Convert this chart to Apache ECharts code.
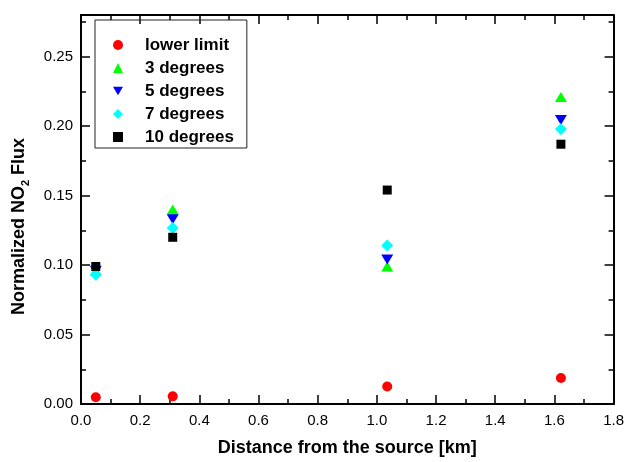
<!DOCTYPE html>
<html>
<head>
<meta charset="utf-8">
<script src="https://cdn.jsdelivr.net/npm/echarts@6/dist/echarts.min.js"></script>
<style>
  html, body { margin: 0; padding: 0; background: #fff; }
  #chart { width: 627px; height: 462px; }
</style>
</head>
<body>
<div id="chart"></div>
<script>
// distances [km]
const distance = [0.05, 0.31, 1.035, 1.622]
// normalized NO2 flux per scan angle
const lowerLimit = [0.0048, 0.0055, 0.0126, 0.0187]
const deg3 = [0.096, 0.140, 0.099, 0.221]
const deg5 = [0.096, 0.133, 0.104, 0.2045]
const deg7 = [0.093, 0.1267, 0.114, 0.198]
const deg10 = [0.099, 0.120, 0.154, 0.187]

const FONT = '"Liberation Sans", Arial, sans-serif'
const DOWN_TRI = 'path://M0,0L12,0L6,10Z'
const chart = echarts.init(document.getElementById('chart'))

function pts(ys) {
  return distance.map((x, i) => [x, ys[i]])
}

function scatter(name, ys, symbol, size, color) {
  return {
    name,
    type: 'scatter',
    data: pts(ys),
    symbol,
    symbolSize: size,
    itemStyle: { color, opacity: 1 },
    xAxisIndex: 0,
    yAxisIndex: 0,
  }
}

const lineStyle = { color: '#000', width: 2 }

function xAx(pos, labels) {
  return {
    type: 'value', position: pos, min: 0, max: 1.8, interval: 0.2,
    axisLine: { show: true, onZero: false, lineStyle },
    axisTick: { show: true, inside: true, length: 9, lineStyle: { color: '#000', width: 1.5 } },
    minorTick: { show: true, splitNumber: 2, length: 5, lineStyle: { color: '#000', width: 1.5 } },
    splitLine: { show: false },
    axisLabel: { show: labels, color: '#000', fontFamily: FONT, fontSize: 15, margin: 9,
      formatter: v => v.toFixed(1) },
    name: labels ? 'Distance from the source [km]' : '',
    nameLocation: 'middle',
    nameGap: 35,
    nameTextStyle: { color: '#000', fontFamily: FONT, fontSize: 18, fontWeight: 'bold' },
  }
}

function yAx(pos, major, labels) {
  return {
    type: 'value', position: pos, min: 0, max: 0.28,
    interval: major ? 0.05 : 0.025,
    axisLine: { show: major, onZero: false, lineStyle },
    axisTick: { show: true, inside: true, length: major ? 9 : 5, lineStyle: { color: '#000', width: 1.5 } },
    splitLine: { show: false },
    axisLabel: { show: labels, showMaxLabel: false, color: '#000', fontFamily: FONT, fontSize: 15, margin: 8,
      formatter: v => v.toFixed(2) },
    name: labels ? '{t|Normalized NO}{s|2}{t| Flux}' : '',
    nameLocation: 'middle',
    nameGap: 50,
    nameRotate: 90,
    nameTextStyle: {
      color: '#000', fontFamily: FONT, fontSize: 18, fontWeight: 'bold',
      padding: [0, 34, 0, 0],
      rich: {
        t: { fontFamily: FONT, fontSize: 18, fontWeight: 'bold', color: '#000', lineHeight: 24, verticalAlign: 'middle' },
        s: { fontFamily: FONT, fontSize: 11, fontWeight: 'bold', color: '#000', lineHeight: 24, verticalAlign: 'bottom', padding: [12, 0, 0, 0] },
      },
    },
  }
}

chart.setOption({
  animation: false,
  backgroundColor: '#fff',
  grid: { left: 81, right: 12, top: 15, bottom: 53 },
  legend: {
    orient: 'vertical',
    left: 95, top: 20,
    padding: [15, 13, 1, 18],
    itemWidth: 10, itemHeight: 10, itemGap: 3,
    borderColor: '#222', borderWidth: 1,
    textStyle: { color: '#000', fontFamily: FONT, fontSize: 17, fontWeight: 'bold', lineHeight: 20, padding: [0, 0, 0, 17] },
    data: [
      { name: 'lower limit' },
      { name: '3 degrees' },
      { name: '5 degrees', icon: DOWN_TRI },
      { name: '7 degrees' },
      { name: '10 degrees' },
    ],
  },
  xAxis: [xAx('bottom', true), xAx('top', false)],
  yAxis: [yAx('left', true, true), yAx('left', false, false), yAx('right', true, false), yAx('right', false, false)],
  series: [
    scatter('lower limit', lowerLimit, 'circle', 10, '#ff0000'),
    scatter('3 degrees', deg3, 'triangle', [12, 10], '#00ff00'),
    scatter('5 degrees', deg5, DOWN_TRI, [12, 10], '#0000ff'),
    scatter('7 degrees', deg7, 'diamond', [12, 12], '#00ffff'),
    scatter('10 degrees', deg10, 'rect', 9, '#000000'),
  ],
})
</script>
</body>
</html>
